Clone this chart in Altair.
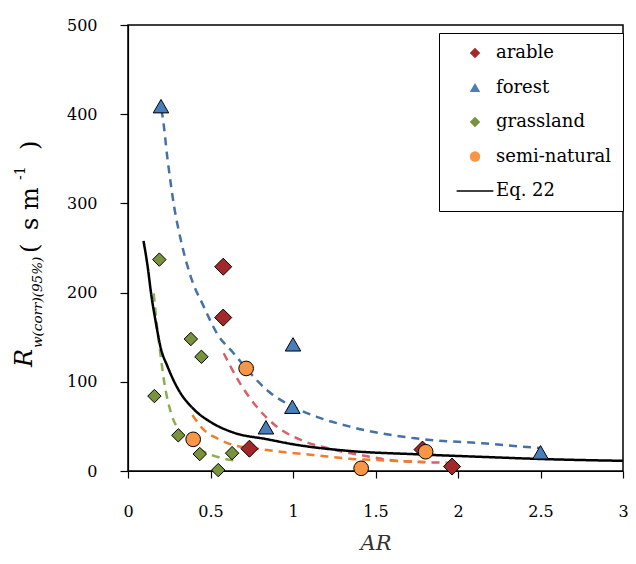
import altair as alt
import pandas as pd

# ---- data ----
arable_x = [0.577, 0.577, 0.736, 1.785, 1.964]
arable_y = [229, 172, 25, 24, 5]
forest_x = [0.200, 1.000, 0.996, 0.836, 2.500]
forest_y = [409, 142, 72, 49, 21]
grass_x = [0.190, 0.381, 0.445, 0.160, 0.305, 0.435, 0.631, 0.547]
grass_y = [237, 148, 128, 84, 40, 19, 20, 1]
semi_x = [0.716, 0.395, 1.413, 1.804]
semi_y = [115, 35.5, 3, 21.6]

# fitted curves
eq22_x = [0.094, 0.12, 0.14, 0.17, 0.197, 0.24, 0.30, 0.40, 0.50, 0.64, 0.84, 1.00, 1.34, 1.74, 2.15, 2.55, 3.00]
eq22_y = [258, 228, 199, 165, 139, 117, 93, 69, 55, 43, 35.7, 30, 22.5, 18.8, 15.8, 13.2, 11.4]
fcurve_x = [0.200, 0.206, 0.24, 0.28, 0.32, 0.38, 0.46, 0.54, 0.64, 0.74, 0.84, 1.00, 1.14, 1.34, 1.74, 2.15, 2.50]
fcurve_y = [405, 401, 349, 296, 259, 218, 184, 154, 132, 110, 91, 72, 61, 50, 36.6, 31, 25.6]
acurve_x = [0.58, 0.68, 0.78, 0.90, 1.04, 1.24, 1.44, 1.64, 1.94]
acurve_y = [132, 98, 72, 50, 35.4, 24.2, 16.8, 11.2, 9.3]
scurve_x = [0.39, 0.46, 0.54, 0.64, 0.78, 0.94, 1.14, 1.34, 1.54, 1.80]
scurve_y = [62.8, 46, 36.6, 29, 25, 21.3, 17.6, 13.8, 12, 10]
gcurve_x = [0.156, 0.176, 0.196, 0.22, 0.26, 0.32, 0.40, 0.50, 0.67]
gcurve_y = [199, 162, 132, 99, 65.6, 42.8, 27.9, 18.5, 11]

categories = ["arable", "forest", "grassland", "semi-natural", "Eq. 22"]
fill_colors = ["#A3282A", "#4A7EBB", "#77933C", "#F79646", "#000000"]
LINE_SYMBOL = "M-3.5,-0.15L3.5,-0.15L3.5,0.15L-3.5,0.15Z"
shapes = ["diamond", "triangle-up", "diamond", "circle", LINE_SYMBOL]
marker_sizes = {"arable": 290, "forest": 240, "grassland": 180, "semi-natural": 215}

FONT = "DejaVu Serif"

xscale = alt.Scale(domain=[0, 3], nice=False, zero=False)
yscale = alt.Scale(domain=[0, 500], nice=False)

xaxis = alt.Axis(values=[0, 0.5, 1, 1.5, 2, 2.5, 3], format="~g", title="AR",
                 titleFontStyle="italic", titleFontWeight="normal", titleFont=FONT,
                 titleFontSize=21, titleY=78, titleBaseline="alphabetic",
                 labelFont=FONT, labelFontSize=16,
                 labelPadding=25, tickSize=7, labelFlush=False, labelOverlap=False,
                 grid=False, domainColor="black", tickColor="black", labelColor="black",
                 titleColor="#333333")
yaxis = alt.Axis(values=[0, 100, 200, 300, 400, 500], title=None, labelFont=FONT,
                 labelFontSize=16, labelPadding=23, tickSize=8, labelFlush=False,
                 labelOverlap=False, grid=False, domainColor="black", tickColor="black",
                 labelColor="black")

X = alt.X("AR:Q", scale=xscale, axis=xaxis)
Y = alt.Y("R:Q", scale=yscale, axis=yaxis)

def curve(xs, ys, color, dash):
    df = pd.DataFrame({"AR": xs, "R": ys})
    return alt.Chart(df).mark_line(
        color=color, strokeWidth=2.5, strokeDash=dash, interpolate="monotone"
    ).encode(x=X, y=Y, order="AR:Q")

lines = [
    curve(fcurve_x, fcurve_y, "#4670A8", [8, 6]),
    curve(acurve_x, acurve_y, "#D95F6B", [8, 6]),
    curve(scurve_x, scurve_y, "#F07D2A", [8, 6]),
    curve(gcurve_x, gcurve_y, "#8BAE50", [8, 6]),
    curve(eq22_x, eq22_y, "#000000", [1, 0]),
]

legend = alt.Legend(title=None, orient="none", legendX=311, legendY=8,
                    labelFont=FONT, labelFontSize=18, labelColor="black",
                    symbolStrokeColor="black", symbolStrokeWidth=1, symbolSize=110,
                    symbolOpacity=1, rowPadding=16.5, padding=11, symbolOffset=16,
                    labelOffset=12, strokeColor="black", fillColor="white")

color_enc = alt.Color("cat:N", scale=alt.Scale(domain=categories, range=fill_colors), legend=legend)
shape_enc = alt.Shape("cat:N", scale=alt.Scale(domain=categories, range=shapes), legend=legend)

point_layers = []
for cat, xs, ys in [("arable", arable_x, arable_y), ("forest", forest_x, forest_y),
                    ("grassland", grass_x, grass_y), ("semi-natural", semi_x, semi_y)]:
    df = pd.DataFrame({"AR": xs, "R": ys, "cat": [cat] * len(xs)})
    point_layers.append(
        alt.Chart(df).mark_point(filled=True, stroke="black", strokeWidth=1, opacity=1,
                                 size=marker_sizes[cat]).encode(
            x=X, y=Y, color=color_enc, shape=shape_enc)
    )

one = pd.DataFrame({"k": [0]})
def label(text, x, y, size, style="normal"):
    return alt.Chart(one).mark_text(text=text, angle=270, align="left", baseline="alphabetic",
                                    font=FONT, fontSize=size, fontStyle=style, color="black"
                                    ).encode(x=alt.value(x), y=alt.value(y))

# y-axis title pieces (plot-area pixel offsets; plot origin at page x=128, y=25)
ytitle = [
    label("R", -96, 342, 24, "italic"),
    label("w(corr)(95%)", -86, 323, 13.5, "italic"),
    label("(", -90, 228, 24),
    label("s", -90, 205, 24),
    label("m", -90, 185, 24),
    label("-1", -103, 155, 14),
    label(")", -90, 125, 24),
]

chart = alt.layer(*lines, *point_layers, *ytitle).properties(
    width=495, height=446,
    autosize=alt.AutoSizeParams(type="none"),
    padding={"left": 120, "top": 17, "right": 5, "bottom": 85},
).configure_view(stroke="black", strokeWidth=1.5).configure_axis(domainWidth=1.2, tickWidth=1.2)

chart.save("out.html", embed_options={"renderer": "svg", "actions": False})
